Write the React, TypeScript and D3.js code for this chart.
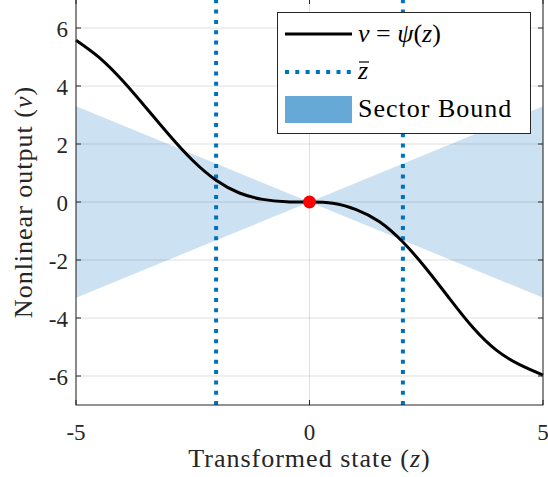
import * as d3 from 'd3'

// sampled curve v = psi(z)
const zValues = [-5, -4.5, -4, -3.5, -3, -2.5, -2, -1.5, -1, -0.5, 0, 0.5, 1, 1.5, 2, 2.5, 3, 3.5, 4, 4.5, 5]
const vValues = [5.58, 4.98, 4.18, 3.25, 2.3, 1.43, 0.75, 0.31, 0.09, 0.01, 0, -0.04, -0.26, -0.68, -1.38, -2.3, -3.33, -4.33, -5.11, -5.61, -5.97]

const zBar = [-2, 2]
const sectorSlope = 0.66
const xTicks = [-5, 0, 5]
const yTicks = [-6, -4, -2, 0, 2, 4, 6]

const W = 548
const H = 477
const font = '"Liberation Serif", serif'
const axisColor = '#262626'

export default function App() {
  const x = d3.scaleLinear().domain([-5, 5]).range([76, 543])
  const y = d3.scaleLinear().domain([-7, 7]).range([405, -1])

  const pts = zValues.map((z, i) => [z, vValues[i]] as [number, number])
  const line = d3.line<[number, number]>()
    .x(d => x(d[0]))
    .y(d => y(d[1]))
    .curve(d3.curveNatural)

  // bow-tie sector between v = k z and v = -k z
  const sector = [
    [-5, sectorSlope * 5], [0, 0], [5, sectorSlope * 5],
    [5, -sectorSlope * 5], [0, 0], [-5, -sectorSlope * 5],
  ].map(p => `${x(p[0])},${y(p[1])}`).join(' ')

  const [x0, x1] = x.range()
  const yB = y(-7)
  const yT = y(7)

  return (
    <svg width={W} height={H} style={{ position: 'absolute', left: 0, top: 0, display: 'block', fontFamily: font }}>
      <rect x={0} y={0} width={W} height={H} fill="#fff" />
      <polygon points={sector} fill="#cce1f1" />
      {/* grid */}
      {xTicks.map(t => (
        <line key={'gx' + t} x1={x(t)} x2={x(t)} y1={yT} y2={yB} stroke={axisColor} strokeOpacity={0.15} strokeWidth={1} />
      ))}
      {yTicks.map(t => (
        <line key={'gy' + t} x1={x0} x2={x1} y1={y(t)} y2={y(t)} stroke={axisColor} strokeOpacity={0.15} strokeWidth={1} />
      ))}
      {/* z bar lines */}
      {zBar.map(z => (
        <line key={'zb' + z} x1={x(z)} x2={x(z)} y1={yB} y2={yT} stroke="#0072bd" strokeWidth={4} strokeDasharray="4 6.3" />
      ))}
      <path d={line(pts) ?? ''} fill="none" stroke="#000" strokeWidth={3} />
      <circle cx={x(0)} cy={y(0)} r={6.5} fill="#ff0000" />
      {/* axes box */}
      <rect x={x0} y={yT} width={x1 - x0} height={yB - yT} fill="none" stroke={axisColor} strokeWidth={1} />
      {xTicks.map(t => (
        <g key={'tx' + t}>
          <line x1={x(t)} x2={x(t)} y1={yB} y2={yB - 5} stroke={axisColor} />
          <line x1={x(t)} x2={x(t)} y1={yT} y2={yT + 5} stroke={axisColor} />
          <text x={x(t)} y={440} textAnchor="middle" fontSize={23} fill={axisColor}>{t}</text>
        </g>
      ))}
      {yTicks.map(t => (
        <g key={'ty' + t}>
          <line x1={x0} x2={x0 + 5} y1={y(t)} y2={y(t)} stroke={axisColor} />
          <line x1={x1} x2={x1 - 5} y1={y(t)} y2={y(t)} stroke={axisColor} />
          <text x={68} y={y(t) + 8.5} textAnchor="end" fontSize={23} fill={axisColor}>{t}</text>
        </g>
      ))}
      <text x={(x0 + x1) / 2} y={467} textAnchor="middle" fontSize={26} letterSpacing={1} fill={axisColor}>
        Transformed state (<tspan fontStyle="italic">z</tspan>)
      </text>
      <text transform={`translate(32,${y(0)}) rotate(-90)`} textAnchor="middle" fontSize={26} letterSpacing={1} fill={axisColor}>
        Nonlinear output (<tspan fontStyle="italic">v</tspan>)
      </text>
      {/* legend */}
      <g>
        <rect x={277.5} y={12.5} width={253} height={121} fill="#fff" stroke={axisColor} strokeWidth={1} />
        <line x1={285} x2={352} y1={34} y2={34} stroke="#000" strokeWidth={3} />
        <text x={358} y={42} fontSize={26} fill="#000">
          <tspan fontStyle="italic">v</tspan> = <tspan fontStyle="italic">ψ</tspan>(<tspan fontStyle="italic">z</tspan>)
        </text>
        <line x1={285} x2={354} y1={72} y2={72} stroke="#0072bd" strokeWidth={4} strokeDasharray="4 6.3" />
        <line x1={359} x2={369} y1={62} y2={62} stroke="#000" strokeWidth={1.2} />
        <text x={358} y={79} fontSize={26} fontStyle="italic" fill="#000">z</text>
        <rect x={285} y={96} width={67} height={27} fill="#66a9d7" />
        <text x={358} y={117} fontSize={26} letterSpacing={1} fill="#000">Sector Bound</text>
      </g>
    </svg>
  )
}
